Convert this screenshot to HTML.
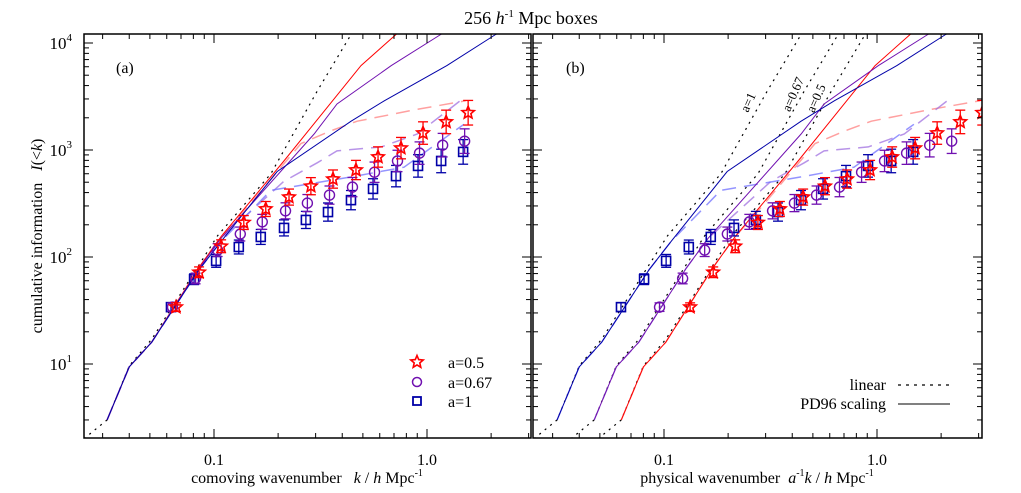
<!DOCTYPE html>
<html><head><meta charset="utf-8"><style>
body{margin:0;background:#fff;}
svg{display:block;font-family:"Liberation Serif",serif;}
</style></head><body>
<svg id="fig" width="1021" height="493" viewBox="0 0 1021 493" xmlns="http://www.w3.org/2000/svg">
<text x="531" y="24" text-anchor="middle" font-size="18">256 <tspan font-style="italic">h</tspan><tspan font-size="11" dy="-7">-1</tspan><tspan dy="7"> Mpc boxes</tspan></text>
<defs>
<clipPath id="clipA"><rect x="84" y="34" width="447" height="404"/></clipPath>
<clipPath id="clipB"><rect x="533" y="34" width="449" height="404"/></clipPath>
</defs>
<g id="panelA"></g>
<g id="panelB"></g>
</svg>
<script>
// ---- data ----
const kvals = [0.0663,0.0851,0.108,0.138,0.175,0.225,0.285,0.362,0.464,0.589,0.755,0.958,1.23,1.56];
const starV = [34,72,126,210,281,363,459,535,650,860,1041,1440,1830,2230];
const circV = [34,63,116,164,213,270,319,379,450,620,790,935,1110,1210];
const sqV   = [34,62,92,124,154,187,222,263,340,433,570,710,790,960];
const errDex = [0.04,0.05,0.06,0.065,0.07,0.075,0.08,0.085,0.09,0.095,0.1,0.105,0.11,0.115];
const linK = [0.0245,0.0315,0.040,0.051,0.104,0.185,0.305,0.44,0.6];
const linI = [2.0,3.0,9.6,17,158,600,3550,12000,30000];
const redK = [0.0315,0.040,0.051,0.085,0.108,0.213,0.49,0.715,1.0];
const redI = [3,9.4,16,80,155,790,6150,12000,22000];
const purK = [0.0315,0.040,0.051,0.085,0.108,0.295,0.378,0.68,1.16,1.6];
const purI = [3,9.4,16,78,150,1410,2690,6150,12000,18000];
const bluK = [0.0315,0.040,0.051,0.085,0.108,0.198,0.44,0.63,1.24,2.1,3.0];
const bluI = [3,9.4,16,76,140,630,1860,2880,6150,12000,17000];
const redDK = [0.0315,0.040,0.051,0.085,0.108,0.134,0.256,0.354,0.47,0.9,1.52];
const redDI = [3,9.4,16,80,155,250,1150,1510,1860,2400,2880];
const purDK = [0.0315,0.040,0.051,0.085,0.108,0.213,0.305,0.378,0.61,0.9,1.52];
const purDI = [3,9.4,16,78,150,510,760,980,1070,1410,3160];
const bluDK = [0.0315,0.040,0.051,0.085,0.108,0.185,0.44,0.78,1.49];
const bluDI = [3,9.4,16,76,140,420,560,690,1740];
const aVals = [0.5,0.67,1];
const xTickLabels = ["0.1","1.0"];
const yTickExp = [1,2,3,4];

const NS="http://www.w3.org/2000/svg";
const X0=84, Y0=34, Y1=438;
function xA(k){return 427+213*Math.log10(k);}
function xB(k){return 877+213*Math.log10(k);}
function yS(v){return 364-107*(Math.log10(v)-1);}
function mk(tag,attrs,parent){const e=document.createElementNS(NS,tag);for(const a in attrs)e.setAttribute(a,attrs[a]);parent.appendChild(e);return e;}

function axes(g,left,right,xf,showY,name){
  mk('rect',{x:left,y:Y0,width:right-left,height:Y1-Y0,fill:'none',stroke:'#000','stroke-width':1.5},g);
  for(let d=-2;d<=0;d++){for(let m=1;m<10;m++){const k=m*Math.pow(10,d);const x=xf(k);if(x<left||x>right)continue;const L=m==1?9:5;
    mk('line',{x1:x,y1:Y1,x2:x,y2:Y1-L,stroke:'#000','stroke-width':1},g);
    mk('line',{x1:x,y1:Y0,x2:x,y2:Y0+L,stroke:'#000','stroke-width':1},g);}}
  xTickLabels.forEach(t=>{const x=xf(parseFloat(t));const e=mk('text',{x:x,y:465,'text-anchor':'middle','font-size':16},g);e.textContent=t;
    
    });
  for(let d=0;d<=4;d++){for(let m=1;m<10;m++){const v=m*Math.pow(10,d);const y=yS(v);if(y<Y0||y>Y1)continue;const L=m==1?9:5;
    mk('line',{x1:left,y1:y,x2:left+L,y2:y,stroke:'#000','stroke-width':1},g);
    mk('line',{x1:right,y1:y,x2:right-L,y2:y,stroke:'#000','stroke-width':1},g);}}
  if(showY){yTickExp.forEach(p=>{const y=yS(Math.pow(10,p));const e=mk('text',{x:72,y:y+6,'text-anchor':'end','font-size':17},g);
    e.innerHTML='10<tspan font-size="11" dy="-8">'+p+'</tspan>';
    
    });}
}
function line(g,K,I,xf,color,dash,w,op,name){
  const pts=K.map((k,i)=>xf(k).toFixed(1)+','+yS(I[i]).toFixed(1)).join(' ');
  const e=mk('polyline',{points:pts,fill:'none',stroke:color,'stroke-width':w,'stroke-dasharray':dash||'none',opacity:op||1},g);
  
  
}
function star(g,x,y,r,c){let p=[];for(let i=0;i<10;i++){const rr=i%2?r*0.45:r;const a=-Math.PI/2+i*Math.PI/5;p.push((x+rr*Math.cos(a)).toFixed(1)+','+(y+rr*Math.sin(a)).toFixed(1));}
  return mk('polygon',{points:p.join(' '),fill:'none',stroke:c,'stroke-width':1.6},g);}
function points(g,V,xf,a,color,shape,dx,name){
  V.forEach((v,i)=>{const x=xf(kvals[i]/a)+dx,y=yS(v);
    const gg=mk('g',{},g);
    
    
    const yt=yS(v*Math.pow(10,errDex[i])),yb=yS(v/Math.pow(10,errDex[i]));
    mk('line',{x1:x,y1:yt,x2:x,y2:yb,stroke:color,'stroke-width':1.3},gg);
    mk('line',{x1:x-5,y1:yt,x2:x+5,y2:yt,stroke:color,'stroke-width':1.3},gg);
    mk('line',{x1:x-5,y1:yb,x2:x+5,y2:yb,stroke:color,'stroke-width':1.3},gg);
    if(shape=='star')star(gg,x,y,6.5,color);
    else if(shape=='circ')mk('circle',{cx:x,cy:y,r:5,fill:'none',stroke:color,'stroke-width':1.4},gg);
    else mk('rect',{x:x-4.5,y:y-4.5,width:9,height:9,fill:'none',stroke:color,'stroke-width':1.6},gg);
  });
}
const RED='#ff0000',PUR='#7010b0',BLU='#0000a8';
// Panel A
const gA=document.getElementById('panelA');
const cA=mk('g',{'clip-path':'url(#clipA)'},gA);
line(cA,linK,linI,xA,'#000','2 5',1.2,1,'linear-dotted-line');
line(cA,redDK,redDI,xA,'#ff8080','14 8',1.5,0.75,'red-dashed-line');
line(cA,purDK,purDI,xA,'#a070e0','14 8',1.5,0.75,'purple-dashed-line');
line(cA,bluDK,bluDI,xA,'#7070ff','14 8',1.5,0.75,'blue-dashed-line');
line(cA,redK,redI,xA,RED,null,1,1,'red-pd96-line');
line(cA,purK,purI,xA,PUR,null,1,1,'purple-pd96-line');
line(cA,bluK,bluI,xA,BLU,null,1,1,'blue-pd96-line');
points(cA,sqV,k=>xA(k),1,BLU,'sq',-5,'a1-point');
points(cA,circV,k=>xA(k),1,PUR,'circ',-3.5,'a067-point');
points(cA,starV,k=>xA(k),1,RED,'star',0,'a05-point');
axes(gA,84,531,xA,true,'a');
let t=mk('text',{x:116,y:73,'font-size':16},gA);t.textContent='(a)';


const lg=mk('g',{},gA);


star(lg,417,362,6.5,RED);mk('circle',{cx:417,cy:382,r:4.5,fill:'none',stroke:PUR,'stroke-width':1.5},lg);
mk('rect',{x:413,y:397,width:8,height:8,fill:'none',stroke:BLU,'stroke-width':1.8},lg);
[['a=0.5',368],['a=0.67',388],['a=1',407]].forEach(([s,y])=>{const e=mk('text',{x:448,y:y,'font-size':16},lg);e.textContent=s;
  
  });
t=mk('text',{x:307,y:483,'text-anchor':'middle','font-size':16},gA);
t.innerHTML='comoving wavenumber &#160;&#160;<tspan font-style="italic">k</tspan> / <tspan font-style="italic">h</tspan> Mpc<tspan font-size="10" dy="-7">-1</tspan>';


t=mk('text',{x:0,y:0,'text-anchor':'middle','font-size':16,transform:'translate(42,236) rotate(-90)'},gA);
t.innerHTML='cumulative information &#160;&#160;<tspan font-style="italic">I</tspan>(&lt;<tspan font-style="italic">k</tspan>)';


// Panel B
const gB=document.getElementById('panelB');
const cB=mk('g',{'clip-path':'url(#clipB)'},gB);
aVals.forEach(a=>line(cB,linK.map(k=>k/a),linI,xB,'#000','2 5',1.2,1,'linear-dotted-line'));
line(cB,redDK.map(k=>k/0.5),redDI,xB,'#ff8080','14 8',1.5,0.75,'red-dashed-line');
line(cB,purDK.map(k=>k/0.67),purDI,xB,'#a070e0','14 8',1.5,0.75,'purple-dashed-line');
line(cB,bluDK,bluDI,xB,'#7070ff','14 8',1.5,0.75,'blue-dashed-line');
line(cB,redK.map(k=>k/0.5),redI,xB,RED,null,1,1,'red-pd96-line');
line(cB,purK.map(k=>k/0.67),purI,xB,PUR,null,1,1,'purple-pd96-line');
line(cB,bluK,bluI,xB,BLU,null,1,1,'blue-pd96-line');
points(cB,sqV,xB,1,BLU,'sq',-5,'a1-point');
points(cB,circV,xB,0.67,PUR,'circ',-3.5,'a067-point');
points(cB,starV,xB,0.5,RED,'star',0,'a05-point');
axes(gB,533,982,xB,false,'b');
t=mk('text',{x:566,y:73,'font-size':16},gB);t.textContent='(b)';


[['a=1',752,104],['a=0.67',797,96],['a=0.5',820,100]].forEach(([s,x,y])=>{const e=mk('text',{x:0,y:0,'font-size':13,'text-anchor':'middle',transform:`translate(${x},${y}) rotate(-66)`},gB);e.textContent=s;
  
  });
const lb=mk('g',{},gB);


t=mk('text',{x:886,y:390,'text-anchor':'end','font-size':16},lb);t.textContent='linear';
t=mk('text',{x:886,y:409,'text-anchor':'end','font-size':16},lb);t.textContent='PD96 scaling';
mk('line',{x1:898,y1:385,x2:950,y2:385,stroke:'#000','stroke-dasharray':'3 5','stroke-width':1.2},lb);
mk('line',{x1:898,y1:404,x2:950,y2:404,stroke:'#000','stroke-width':1},lb);
t=mk('text',{x:757,y:483,'text-anchor':'middle','font-size':16},gB);
t.innerHTML='physical wavenumber &#160;<tspan font-style="italic">a</tspan><tspan font-size="10" dy="-7">-1</tspan><tspan dy="7" font-style="italic">k</tspan> / <tspan font-style="italic">h</tspan> Mpc<tspan font-size="10" dy="-7">-1</tspan>';


</script>
</body></html>
